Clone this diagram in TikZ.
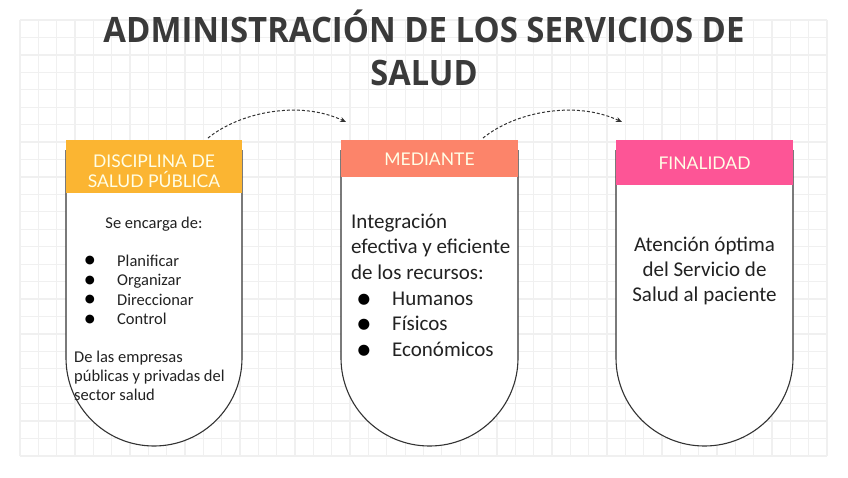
\documentclass[tikz,border=0pt]{standalone}
\usepackage{fontspec}
\setmainfont{Carlito}
\newfontfamily\titlefont{Open Sans}
\newfontfamily\headfont{Lato}
\newfontfamily\symfont{DejaVu Sans}
\usetikzlibrary{arrows.meta}
\definecolor{gridc}{HTML}{F0F0F0}
\definecolor{titlec}{HTML}{3A3A3A}
\definecolor{textc}{HTML}{222222}
\definecolor{outc}{HTML}{333333}
\definecolor{hA}{HTML}{FBB532}
\definecolor{hB}{HTML}{FC846A}
\definecolor{hC}{HTML}{FD5596}
\tikzset{
  gridline/.style={draw=gridc, line width=1.3pt},
  outline/.style={draw=outc, line width=1.1pt, fill=white},
  header/.style={inner sep=0pt, anchor=north west},
  htext/.style={inner sep=0pt, anchor=base, text=white!90!yellow, font=\headfont\fontsize{17.5}{20}\selectfont},
  ttext/.style={inner sep=0pt, anchor=base, text=titlec, font=\titlefont\bfseries\fontsize{35}{42}\selectfont},
  smalltxt/.style={inner sep=0pt, text=textc, font=\fontsize{16.5}{19}\selectfont},
  bigtxt/.style={inner sep=0pt, text=textc, font=\fontsize{21}{25}\selectfont},
  bulA/.style={inner sep=0pt, anchor=center, text=black, font=\symfont\fontsize{11.5}{12}\selectfont},
  bulB/.style={inner sep=0pt, anchor=center, text=black, font=\symfont\fontsize{14.5}{15}\selectfont},
  flow/.style={draw=outc, line width=1pt, dash pattern=on 3pt off 2pt, -{Stealth[length=6pt,width=5pt]}}
}
\begin{document}
\begin{tikzpicture}[x=1pt,y=-1pt]
\useasboundingbox (0,0) rectangle (848,477);
\fill[white] (0,0) rectangle (848,477);
% grid
\foreach \i in {0,...,44} {\draw[gridline] ({20+\i*18.341},20) -- ({20+\i*18.341},456);}
\foreach \j in {0,...,25} {\draw[gridline] (20,{20+\j*17.44}) -- (827,{20+\j*17.44});}
% title
\node[ttext] (title1) at (424,42) {\scalebox{0.94}[1]{ADMINISTRACIÓN DE LOS SERVICIOS DE}};
\node[ttext] (title2) at (424,85) {\scalebox{0.93}[1]{SALUD}};
% box outlines
\draw[outline] (66,150) -- (66,358) .. controls (66,406.6) and (105.4,446) .. (154,446) .. controls (202.6,446) and (242,406.6) .. (242,358) -- (242,150);
\draw[outline] (341,150) -- (341,358) .. controls (341,406.6) and (380.6,446) .. (429.5,446) .. controls (478.4,446) and (518,406.6) .. (518,358) -- (518,150);
\draw[outline] (616,150) -- (616,358) .. controls (616,406.6) and (655.6,446) .. (704.5,446) .. controls (753.4,446) and (793,406.6) .. (793,358) -- (793,150);
% headers
\node[header, fill=hA, minimum width=176pt, minimum height=53pt] (h1) at (66,140) {};
\node[header, fill=hB, minimum width=177pt, minimum height=37pt] (h2) at (341,140) {};
\node[header, fill=hC, minimum width=177pt, minimum height=45pt] (h3) at (616,140) {};
\node[htext] (h1a) at (154,167) {DISCIPLINA DE};
\node[htext] (h1b) at (154,187) {SALUD PÚBLICA};
\node[htext] (h2a) at (429.5,165) {MEDIANTE};
\node[htext] (h3a) at (704.5,169) {FINALIDAD};
% box 1 text
\node[smalltxt, anchor=base] (b1t) at (154,228) {Se encarga de:};
\node[bulA] (b1p1) at (90,261) {●};
\node[bulA] (b1p2) at (90,280.5) {●};
\node[bulA] (b1p3) at (90,300) {●};
\node[bulA] (b1p4) at (90,319.5) {●};
\node[smalltxt, anchor=base west] (b1l1) at (117,266) {Planificar};
\node[smalltxt, anchor=base west] (b1l2) at (117,285.5) {Organizar};
\node[smalltxt, anchor=base west] (b1l3) at (117,305) {Direccionar};
\node[smalltxt, anchor=base west] (b1l4) at (117,324.5) {Control};
\node[smalltxt, anchor=base west] (b1d1) at (74,362.5) {De las empresas};
\node[smalltxt, anchor=base west] (b1d2) at (74,381.5) {públicas y privadas del};
\node[smalltxt, anchor=base west] (b1d3) at (74,400.5) {sector salud};
% box 2 text
\node[bigtxt, anchor=base west] (b2a) at (351,228) {Integración};
\node[bigtxt, anchor=base west] (b2b) at (351,253.5) {efectiva y eficiente};
\node[bigtxt, anchor=base west] (b2c) at (351,279) {de los recursos:};
\node[bulB] (b2p1) at (364,299.5) {●};
\node[bulB] (b2p2) at (364,325) {●};
\node[bulB] (b2p3) at (364,350.5) {●};
\node[bigtxt, anchor=base west] (b2l1) at (392,305) {Humanos};
\node[bigtxt, anchor=base west] (b2l2) at (392,330.5) {Físicos};
\node[bigtxt, anchor=base west] (b2l3) at (392,356) {Económicos};
% box 3 text
\node[bigtxt, anchor=base] (b3a) at (704.5,251) {Atención óptima};
\node[bigtxt, anchor=base] (b3b) at (704.5,276) {del Servicio de};
\node[bigtxt, anchor=base] (b3c) at (704.5,301) {Salud al paciente};
% arrows
\coordinate (a1s) at (208,138);
\coordinate (a1e) at (346,122);
\coordinate (a2s) at (483,138);
\coordinate (a2e) at (622,122);
\draw[flow] (a1s) .. controls (240,112) and (300,100) .. (a1e);
\draw[flow] (a2s) .. controls (515,112) and (575,100) .. (a2e);
\end{tikzpicture}
\end{document}
